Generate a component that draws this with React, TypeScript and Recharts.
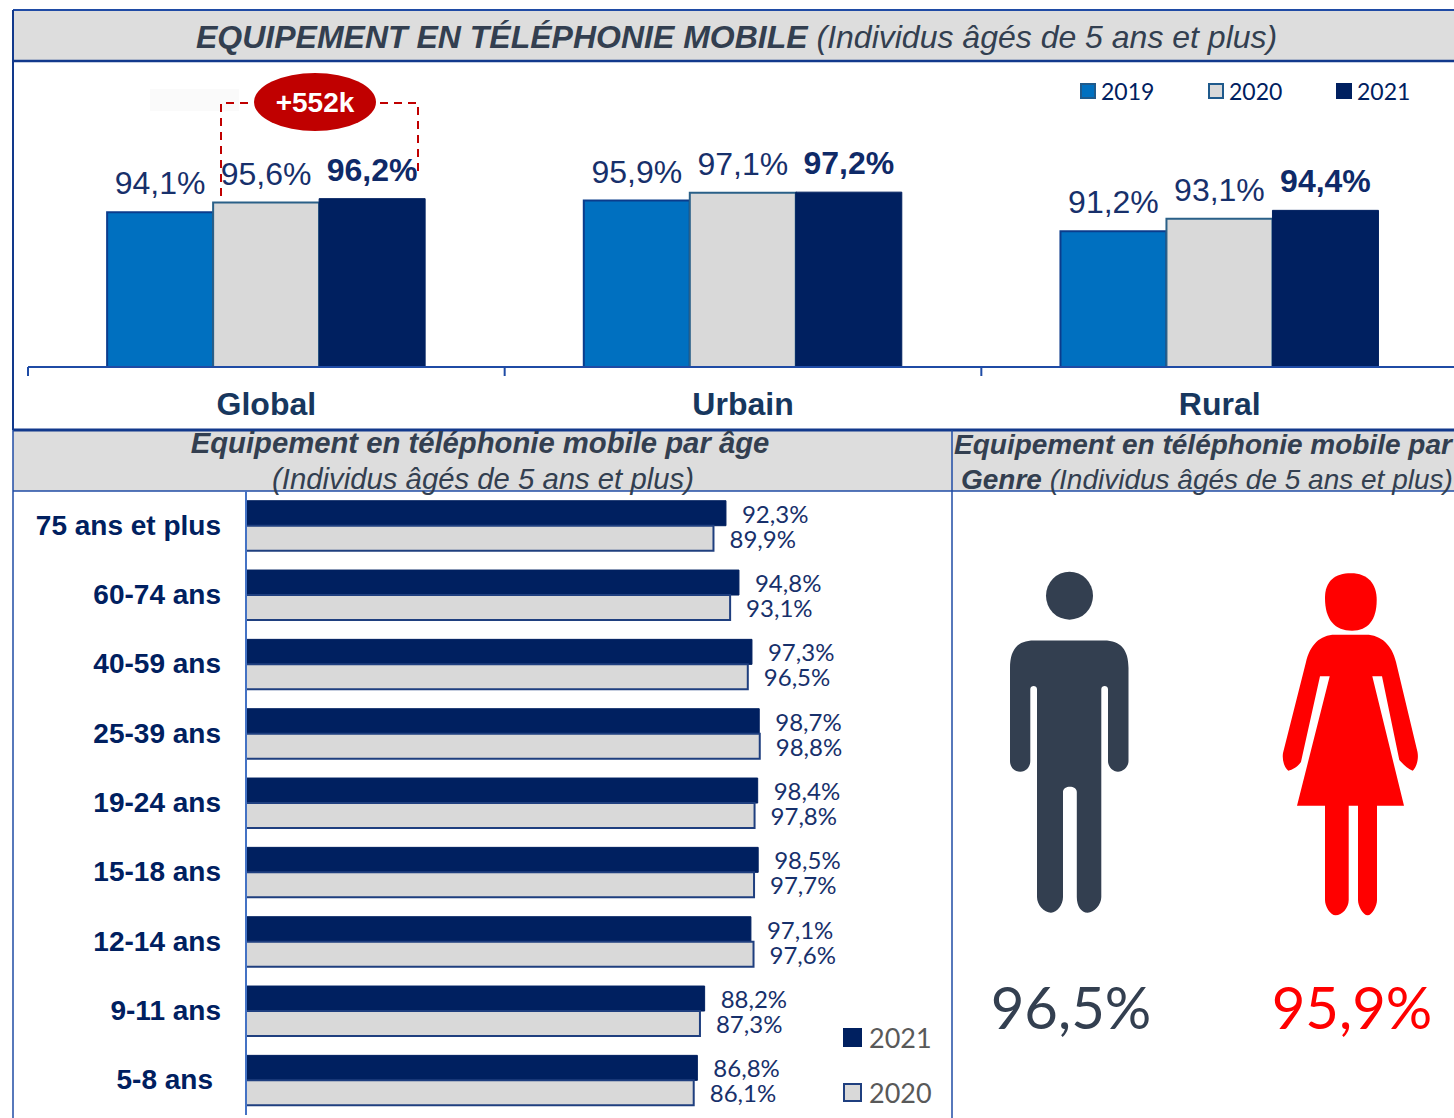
import { Bar, BarChart, LabelList, Legend, XAxis, YAxis } from "recharts";

const areas = ["Global", "Urbain", "Rural"];
const mobile2019 = [94.1, 95.9, 91.2];
const mobile2020 = [95.6, 97.1, 93.1];
const mobile2021 = [96.2, 97.2, 94.4];

const ageGroups = ["75 ans et plus", "60-74 ans", "40-59 ans", "25-39 ans", "19-24 ans", "15-18 ans", "12-14 ans", "9-11 ans", "5-8 ans"];
const age2021 = [92.3, 94.8, 97.3, 98.7, 98.4, 98.5, 97.1, 88.2, 86.8];
const age2020 = [89.9, 93.1, 96.5, 98.8, 97.8, 97.7, 97.6, 87.3, 86.1];

const genderMen = 96.5;
const genderWomen = 95.9;

const areaData = areas.map((name, i) => ({ name, y2019: mobile2019[i], y2020: mobile2020[i], y2021: mobile2021[i] }));
const ageData = ageGroups.map((name, i) => ({ name, y2021: age2021[i], y2020: age2020[i] }));

const NAVY = "#002060";
const BLUE = "#0070C0";
const GREY = "#D9D9D9";
const SLATE = "#333F50";
const FRAME = "#1F4BA5";
const ARIAL = "'Liberation Sans', Arial, sans-serif";
const CALIBRI = "Lato, sans-serif";

const pct = (v: number) => v.toFixed(1).replace(".", ",") + "%";

const TOP_W = 1458;
const TOP_LEFT = 28;
const TOP_AXIS_Y = 305;
const topBand = (TOP_W - TOP_LEFT) / 3;

function AreaTick({ x, payload }: any) {
  return (
    <g>
      <line x1={x - topBand / 2} x2={x - topBand / 2} y1={TOP_AXIS_Y} y2={TOP_AXIS_Y + 9} stroke={FRAME} strokeWidth={2} />
      <text x={x} y={353} textAnchor="middle" fontFamily={ARIAL} fontWeight={700} fontSize={32} fill="#17375E">
        {payload.value}
      </text>
    </g>
  );
}

function AgeTick({ x, y, payload }: any) {
  const shift = payload.value === "5-8 ans" ? 8 : 0;
  return (
    <text x={x - shift} y={y + 9} textAnchor="end" fontFamily={ARIAL} fontWeight={700} fontSize={28} fill={NAVY}>
      {payload.value}
    </text>
  );
}

function TopLegend({ payload }: any) {
  return (
    <div style={{ position: "relative", height: 30 }}>
      {(payload || []).map((p: any, i: number) => (
        <div key={p.value} style={{ position: "absolute", left: i * 128, top: 0, display: "flex", alignItems: "center", height: 30 }}>
          <span style={{ width: 12, height: 12, marginRight: 5, background: p.color, border: `2px solid ${i === 2 ? NAVY : "#1F5A8C"}`, display: "inline-block" }} />
          <span style={{ font: `23px ${CALIBRI}`, color: NAVY }}>{p.value}</span>
        </div>
      ))}
    </div>
  );
}

function AgeLegend({ payload }: any) {
  return (
    <div style={{ position: "relative", height: 90 }}>
      {(payload || []).map((p: any, i: number) => (
        <div key={p.value} style={{ position: "absolute", left: 0, top: i * 55, display: "flex", alignItems: "center", height: 36 }}>
          <span style={{ width: 15, height: 15, marginRight: 7, background: p.color, border: `2px solid ${i === 0 ? NAVY : "#1F3F7F"}`, display: "inline-block" }} />
          <span style={{ font: `27px ${CALIBRI}`, color: "#595959" }}>{p.value}</span>
        </div>
      ))}
    </div>
  );
}

export default function App() {
  return (
    <div style={{ position: "absolute", left: 0, top: 0, width: 1454, height: 1118, overflow: "hidden", background: "#fff" }}>
      {/* header bands and frame */}
      <svg width={1454} height={1118} style={{ position: "absolute", left: 0, top: 0 }}>
        <rect x={13} y={10} width={1443} height={51} fill="#DDDDDD" />
        <rect x={13} y={430} width={1443} height={61} fill="#DDDDDD" />
        <rect x={150} y={89} width={89} height={22} fill="#FAFAFA" />
        <line x1={13} x2={1454} y1={10} y2={10} stroke={FRAME} strokeWidth={2} />
        <line x1={13} x2={1454} y1={61} y2={61} stroke="#12398C" strokeWidth={2.5} />
        <line x1={13} x2={1454} y1={430} y2={430} stroke="#12398C" strokeWidth={3} />
        <line x1={13} x2={1454} y1={491} y2={491} stroke={FRAME} strokeWidth={1.5} />
        <line x1={13} x2={13} y1={10} y2={430} stroke="#12398C" strokeWidth={2} />
        <line x1={13} x2={13} y1={430} y2={1118} stroke={FRAME} strokeWidth={1.5} />
        <line x1={952} x2={952} y1={430} y2={1118} stroke={FRAME} strokeWidth={1.5} />
      </svg>

      <div style={{ position: "absolute", left: 0, top: 62 }}>
        <BarChart
          width={TOP_W}
          height={367}
          data={areaData}
          margin={{ top: 45, right: 0, bottom: 0, left: TOP_LEFT }}
          barCategoryGap="16.6%"
          barGap={0}
        >
          <XAxis dataKey="name" height={62} axisLine={{ stroke: FRAME, strokeWidth: 2 }} tickLine={false} tick={<AreaTick />} interval={0} />
          <YAxis hide domain={[70.3, 110.3]} />
          <Legend
            layout="horizontal"
            verticalAlign="middle"
            content={<TopLegend />}
            wrapperStyle={{ left: 1080, top: 14, width: 360 }}
          />
          <Bar dataKey="y2019" name="2019" fill={BLUE} stroke="#0B3C8C" strokeWidth={2} isAnimationActive={false}>
            <LabelList dataKey="y2019" position="top" offset={18} formatter={pct} style={{ fontFamily: ARIAL, fontSize: 32, fill: "#17306B" }} />
          </Bar>
          <Bar dataKey="y2020" name="2020" fill={GREY} stroke="#2A6088" strokeWidth={2} isAnimationActive={false}>
            <LabelList dataKey="y2020" position="top" offset={18} formatter={pct} style={{ fontFamily: ARIAL, fontSize: 32, fill: "#17306B" }} />
          </Bar>
          <Bar dataKey="y2021" name="2021" fill={NAVY} stroke={NAVY} strokeWidth={1} isAnimationActive={false}>
            <LabelList dataKey="y2021" position="top" offset={18} formatter={pct} style={{ fontFamily: ARIAL, fontSize: 32, fontWeight: 700, fill: "#0F2A68" }} />
          </Bar>
        </BarChart>
      </div>

      <div style={{ position: "absolute", left: 0, top: 491 }}>
        <BarChart
          width={950}
          height={627}
          data={ageData}
          layout="vertical"
          margin={{ top: 0, right: 184, bottom: 3, left: 0 }}
          barCategoryGap="14%"
          barGap={0}
        >
          <XAxis type="number" hide domain={[0, 100]} />
          <YAxis
            type="category"
            dataKey="name"
            width={246}
            axisLine={{ stroke: "#4472C4", strokeWidth: 2 }}
            tickLine={false}
            tickSize={0}
            tickMargin={25}
            tick={<AgeTick />}
            interval={0}
          />
          <Legend
            layout="horizontal"
            verticalAlign="middle"
            itemSorter={null}
            content={<AgeLegend />}
            wrapperStyle={{ left: 843, top: 528, width: 105 }}
          />
          <Bar dataKey="y2021" name="2021" fill={NAVY} stroke={NAVY} strokeWidth={1} isAnimationActive={false}>
            <LabelList dataKey="y2021" position="right" offset={16} dy={1} formatter={pct} style={{ fontFamily: CALIBRI, fontSize: 24, fill: "#17306B" }} />
          </Bar>
          <Bar dataKey="y2020" name="2020" fill={GREY} stroke="#1F3F7F" strokeWidth={2} isAnimationActive={false}>
            <LabelList dataKey="y2020" position="right" offset={16} dy={1} formatter={pct} style={{ fontFamily: CALIBRI, fontSize: 24, fill: "#17306B" }} />
          </Bar>
        </BarChart>
      </div>

      {/* titles, callout and pictograms */}
      <svg width={1454} height={1118} style={{ position: "absolute", left: 0, top: 0, pointerEvents: "none" }}>
        <text x={196} y={48} fontFamily={ARIAL} fontSize={32} fontStyle="italic" fill={SLATE}>
          <tspan fontWeight={700}>EQUIPEMENT EN TÉLÉPHONIE MOBILE</tspan> (Individus âgés de 5 ans et plus)
        </text>
        <text x={480} y={453} textAnchor="middle" fontFamily={ARIAL} fontSize={29.25} fontStyle="italic" fontWeight={700} fill={SLATE}>
          Equipement en téléphonie mobile par âge
        </text>
        <text x={483} y={489} textAnchor="middle" fontFamily={ARIAL} fontSize={29.3} fontStyle="italic" fill={SLATE}>
          (Individus âgés de 5 ans et plus)
        </text>
        <text x={954} y={454} fontFamily={ARIAL} fontSize={28} fontStyle="italic" fontWeight={700} fill={SLATE}>
          Equipement en téléphonie mobile par
        </text>
        <text x={961} y={489} fontFamily={ARIAL} fontSize={28} fontStyle="italic" fill={SLATE}>
          <tspan fontWeight={700}>Genre</tspan> (Individus âgés de 5 ans et plus)
        </text>

        <path d="M221 196 V103 H254 M380 103 H418 V175" fill="none" stroke="#C00000" strokeWidth={2} strokeDasharray="8 6" />
        <ellipse cx={315} cy={102} rx={61} ry={29} fill="#C00000" />
        <text x={315} y={112} textAnchor="middle" fontFamily={ARIAL} fontSize={28} fontWeight={700} fill="#fff">+552k</text>

        <ellipse cx={1069.5} cy={595.7} rx={23.5} ry={24} fill={SLATE} />
        <path
          fill={SLATE}
          d="M1034 640.5 H1104 C1121 640.5 1128.5 650 1128.5 668 V761 C1128.5 767 1123 771.7 1118 771.7 C1113 771.7 1108 767 1108 761 V689 C1108 685 1101.3 685 1101.3 689 V897 C1101.3 905 1094 912.7 1087.7 912.7 C1081 912.7 1076.8 906 1076.8 897 V792 C1076.8 785 1063 785 1063 792 V897 C1063 905 1057 912.7 1051 912.7 C1044 912.7 1037 905 1037 897 V689 C1037 685 1030.3 685 1030.3 689 V761 C1030.3 767 1026 771.7 1020.3 771.7 C1014 771.7 1010 767 1010 761 V668 C1010 650 1017 640.5 1034 640.5 Z"
        />
        <path
          fill="#FF0000"
          d="M1351 573.3 C1368 573.3 1376.7 584 1376.7 600 C1376.7 620 1368 630.7 1352 630.7 C1335 630.7 1325 620 1325 598 C1325 581 1335 573.3 1351 573.3 Z"
        />
        <path
          fill="#FF0000"
          d="M1335 634.7 H1366 C1381 634.7 1392 645 1396 662 L1417.5 752 C1419 760 1416 768 1412.7 770.7 C1408 769 1403 764 1399.3 760 L1382 676.3 H1372.3 L1404 805.7 H1377 V900 C1377 906 1372 915.3 1367.7 915.3 C1363 915.3 1358 906 1358 900 V805.7 H1348.7 V900 C1348.7 908 1342 915.3 1335.7 915.3 C1330 915.3 1325 906 1325 900 V805.7 H1297 L1329.7 676.3 H1320 L1301 761.7 C1299 766 1292 770 1288.3 770.7 C1284 767 1282 760 1283 753 L1306 662 C1310 645 1320 634.7 1335 634.7 Z"
        />
        <text x={1071} y={1029} textAnchor="middle" fontFamily={CALIBRI} fontSize={58} fill={SLATE}>{pct(genderMen)}</text>
        <text x={1352} y={1029} textAnchor="middle" fontFamily={CALIBRI} fontSize={58} fill="#FF0000">{pct(genderWomen)}</text>
      </svg>
    </div>
  );
}
